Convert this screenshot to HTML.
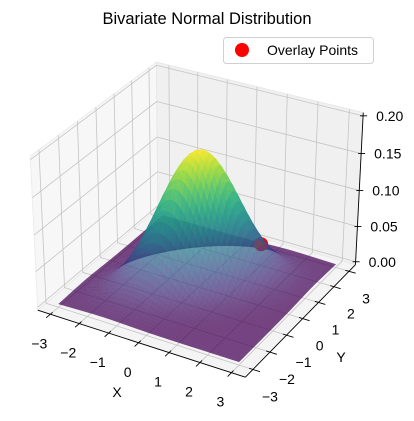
<!DOCTYPE html>
<html><head><meta charset="utf-8"><style>
html,body{margin:0;padding:0;background:#fff;}
svg{display:block;font-family:"Liberation Sans","DejaVu Sans",sans-serif;}
</style></head><body>
<svg id="chart" width="414" height="421" viewBox="0 0 414 421">
<text x="207" y="24" text-anchor="middle" font-size="16.5" fill="#000">Bivariate Normal Distribution</text>
<g id="panes"></g>
<g id="grid"></g>
<g id="axes"></g>
<g id="surface"></g>
<g id="labels"></g>
<text x="117" y="397" text-anchor="middle" font-size="14">X</text>
<text x="341" y="362" text-anchor="middle" font-size="14">Y</text>
<g>
<rect x="223.5" y="37.5" width="150" height="26" rx="3" fill="#fff" fill-opacity="0.8" stroke="#d0d0d0"/>
<circle cx="242" cy="50" r="7" fill="#ff0000"/>
<text x="267" y="55" font-size="14">Overlay Points</text>
</g>
</svg>
<script>
const tickX=[-3,-2,-1,0,1,2,3];
const tickY=[-3,-2,-1,0,1,2,3];
const tickZ=[0,0.05,0.1,0.15,0.2];
const tickZLabels=["0.00","0.05","0.10","0.15","0.20"];
const overlayX=[1];
const overlayY=[2];
const overlayZ=[0.026];
const distMean=[0,0];
const distSigma=[1,1];
const distRho=[0.5];
const gridRange=[-3,3];

const NS="http://www.w3.org/2000/svg";
const XL=[-3.4375,3.4375], YL=[-3.4375,3.4375], ZL=[-0.2/48,0.2+0.2/48];
function nrm(X,Y,Z){return [(X-XL[0])/(XL[1]-XL[0]),(Y-YL[0])/(YL[1]-YL[0]),(Z-ZL[0])/(ZL[1]-ZL[0])];}
const corr=[
 [XL[0],YL[0],ZL[0],37,310],[XL[1],YL[0],ZL[0],247,377],[XL[1],YL[1],ZL[0],356,265],
 [XL[0],YL[0],ZL[1],30,157],[XL[0],YL[1],ZL[1],157,62],[XL[1],YL[1],ZL[1],363,113],
 [-3,-3,0,59,304],[3,-3,0,238,362],[3,3,0,335,265],[XL[1],YL[1],0.2,363,115]];
const A=[],B=[];
corr.forEach(c=>{const [u,v,w]=nrm(c[0],c[1],c[2]);const sx=c[3],sy=c[4];
 A.push([u,v,w,1,0,0,0,0,-sx*u,-sx*v,-sx*w]);B.push(sx);
 A.push([0,0,0,0,u,v,w,1,-sy*u,-sy*v,-sy*w]);B.push(sy);});
const n=11,M=[];for(let i=0;i<n;i++){M.push([]);for(let j=0;j<=n;j++){let s=0;for(let k=0;k<A.length;k++)s+=A[k][i]*(j<n?A[k][j]:B[k]);M[i].push(s);}}
for(let i=0;i<n;i++){let p=i;for(let r=i+1;r<n;r++)if(Math.abs(M[r][i])>Math.abs(M[p][i]))p=r;[M[i],M[p]]=[M[p],M[i]];
 for(let r=0;r<n;r++){if(r===i)continue;const f=M[r][i]/M[i][i];for(let j=i;j<=n;j++)M[r][j]-=f*M[i][j];}}
const P=M.map((r,i)=>r[n]/r[i]);
function proj(X,Y,Z){const [u,v,w]=nrm(X,Y,Z);const d=P[8]*u+P[9]*v+P[10]*w+1;
 return [(P[0]*u+P[1]*v+P[2]*w+P[3])/d,(P[4]*u+P[5]*v+P[6]*w+P[7])/d];}
function depth(X,Y,Z){const [u,v,w]=nrm(X,Y,Z);return 0.433*(2*u-1)-0.75*(2*v-1)+0.5*0.75*(2*w-1);}
function el(tag,attrs,parent){const e=document.createElementNS(NS,tag);for(const k in attrs)e.setAttribute(k,attrs[k]);parent.appendChild(e);return e;}
function pts(a){return a.map(p=>proj(p[0],p[1],p[2]).map(v=>v.toFixed(2)).join(',')).join(' ');}

const panes=document.getElementById('panes');
let e;
e=el('polygon',{points:pts([[XL[0],YL[0],ZL[0]],[XL[0],YL[1],ZL[0]],[XL[0],YL[1],ZL[1]],[XL[0],YL[0],ZL[1]]]),fill:'#f7f7f7',stroke:'#ececec'},panes);


e=el('polygon',{points:pts([[XL[0],YL[1],ZL[0]],[XL[1],YL[1],ZL[0]],[XL[1],YL[1],ZL[1]],[XL[0],YL[1],ZL[1]]]),fill:'#f0f0f0',stroke:'#e8e8e8'},panes);


e=el('polygon',{points:pts([[XL[0],YL[0],ZL[0]],[XL[1],YL[0],ZL[0]],[XL[1],YL[1],ZL[0]],[XL[0],YL[1],ZL[0]]]),fill:'#f4f4f4',stroke:'#eaeaea'},panes);



const grid=document.getElementById('grid');
function gl(a,b,name){const p=proj(...a),q=proj(...b);const l=el('line',{x1:p[0],y1:p[1],x2:q[0],y2:q[1],stroke:'#c4c4c4','stroke-width':0.8},grid);
 
 }
tickX.forEach(x=>{gl([x,YL[0],ZL[0]],[x,YL[1],ZL[0]],'floor-grid-x');gl([x,YL[1],ZL[0]],[x,YL[1],ZL[1]],'back-grid-x');});
tickY.forEach(y=>{gl([XL[0],y,ZL[0]],[XL[1],y,ZL[0]],'floor-grid-y');gl([XL[0],y,ZL[0]],[XL[0],y,ZL[1]],'left-grid-y');});
tickZ.forEach(z=>{gl([XL[0],YL[0],z],[XL[0],YL[1],z],'left-grid-z');gl([XL[0],YL[1],z],[XL[1],YL[1],z],'back-grid-z');});

const axes=document.getElementById('axes');
function al(a,b,name){const p=proj(...a),q=proj(...b);const l=el('line',{x1:p[0],y1:p[1],x2:q[0],y2:q[1],stroke:'#000','stroke-width':0.9},axes);
 
 }
al([XL[0],YL[0],ZL[0]],[XL[1],YL[0],ZL[0]],'x-axis-line');
al([XL[1],YL[0],ZL[0]],[XL[1],YL[1],ZL[0]],'y-axis-line');
al([XL[1],YL[1],ZL[0]],[XL[1],YL[1],ZL[1]],'z-axis-line');
const labels=document.getElementById('labels');
function tl(x,y,txt,anchor,name){const t=el('text',{x:x,y:y,'font-size':14,'text-anchor':anchor,'dominant-baseline':'central'},labels);t.textContent=txt;
 
 }
tickX.forEach(x=>{al([x,YL[0]+0.12,ZL[0]],[x,YL[0]-0.22,ZL[0]],'x-tick');const p=proj(x,YL[0],ZL[0]);tl(p[0]-11,p[1]+29,String(x).replace('-','\u2212'),'middle','x-tick-label');});
tickY.forEach(y=>{al([XL[1]-0.12,y,ZL[0]],[XL[1]+0.22,y,ZL[0]],'y-tick');const p=proj(XL[1],y,ZL[0]);tl(p[0]+17,p[1]+27,String(y).replace('-','\u2212'),'middle','y-tick-label');});
tickZ.forEach((z,i)=>{const p=proj(XL[1],YL[1],z);
 const l=el('line',{x1:p[0]-3,y1:p[1],x2:p[0]+4,y2:p[1],stroke:'#000','stroke-width':0.9},axes);
 
 
 tl(p[0]+13,p[1],tickZLabels[i],'start','z-tick-label');});

// surface
const VIR=[[68,1,84],[71,44,122],[59,81,139],[44,113,142],[33,144,141],[39,173,129],[92,200,99],[170,220,50],[253,231,37]];
function vir(t){t=Math.max(0,Math.min(1,t))*8;const i=Math.min(7,Math.floor(t)),f=t-i;const a=VIR[i],b=VIR[i+1];
 return 'rgb('+[0,1,2].map(k=>Math.round(a[k]+(b[k]-a[k])*f)).join(',')+')';}
function pdf(x,y){const r=distRho[0];const zx=(x-distMean[0])/distSigma[0],zy=(y-distMean[1])/distSigma[1];
 const q=(zx*zx-2*r*zx*zy+zy*zy)/(1-r*r);
 return Math.exp(-q/2)/(2*Math.PI*distSigma[0]*distSigma[1]*Math.sqrt(1-r*r));}
const N=50,g=[];const step=(gridRange[1]-gridRange[0])/N;
for(let i=0;i<=N;i++){g.push([]);for(let j=0;j<=N;j++){const x=gridRange[0]+i*step,y=gridRange[0]+j*step;g[i].push([x,y,pdf(x,y)]);}}
let zmin=Infinity,zmax=-Infinity;g.forEach(r=>r.forEach(p=>{zmin=Math.min(zmin,p[2]);zmax=Math.max(zmax,p[2]);}));
const items=[];
for(let i=0;i<N;i++)for(let j=0;j<N;j++){const q=[g[i][j],g[i+1][j],g[i+1][j+1],g[i][j+1]];
 const cx=q.reduce((s,p)=>s+p[0],0)/4,cy=q.reduce((s,p)=>s+p[1],0)/4,cz=q.reduce((s,p)=>s+p[2],0)/4;
 items.push({d:depth(cx,cy,cz),q:q,c:vir((cz-zmin)/(zmax-zmin))});}
overlayX.forEach((x,k)=>items.push({d:depth(x,overlayY[k],overlayZ[k])+0.08,pt:[x,overlayY[k],overlayZ[k]]}));
items.sort((a,b)=>a.d-b.d);
const surf=document.getElementById('surface');
items.forEach(it=>{
 if(it.pt){const p=proj(...it.pt);const c=el('circle',{cx:p[0],cy:p[1],r:7,fill:'#ff0000'},surf);
  
  return;}
 const pg=el('polygon',{points:pts(it.q),fill:it.c,'fill-opacity':0.72,stroke:it.c,'stroke-opacity':0.25,'stroke-width':0.3},surf);
 
 
});
</script>
</body></html>
